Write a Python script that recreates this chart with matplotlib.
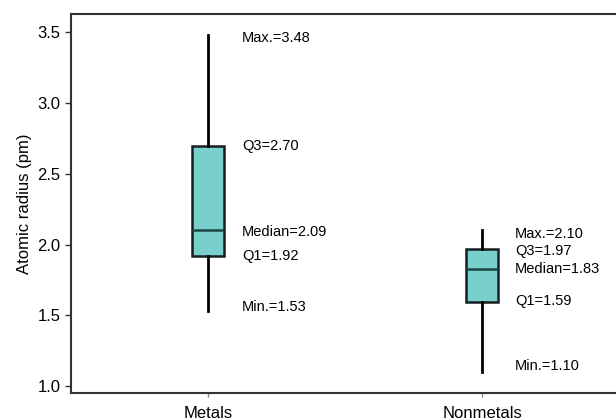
import matplotlib
matplotlib.use("Agg")
import matplotlib.pyplot as plt

plt.rcParams['font.family'] = ['Liberation Sans', 'DejaVu Sans']

# podatki
groups = ["Metals", "Nonmetals"]
mins = [1.53, 1.10]
q1s = [1.92, 1.59]
medians = [2.10, 1.83]
q3s = [2.70, 1.97]
maxs = [3.48, 2.10]

label_names = ["Max.", "Q3", "Median", "Q1", "Min."]
label_values = [["3.48", "2.70", "2.09", "1.92", "1.53"],
                ["2.10", "1.97", "1.83", "1.59", "1.10"]]
# kje stoji besedilo (y v podatkovnih koordinatah)
label_y = [[3.46, 2.695, 2.09, 1.92, 1.56],
           [2.075, 1.955, 1.83, 1.60, 1.14]]

fig = plt.figure(figsize=(6.16, 4.2), dpi=100)
ax = fig.add_axes([71/616, 27/420, 548/616, 379/420])

stats = []
for i, g in enumerate(groups):
    stats.append(dict(label=g, whislo=mins[i], q1=q1s[i], med=medians[i],
                      q3=q3s[i], whishi=maxs[i], fliers=[]))

ax.bxp(stats, positions=[1, 2], widths=0.12, patch_artist=True, showcaps=False,
       boxprops=dict(facecolor="#78cfcb", edgecolor="#14201f", linewidth=1.8),
       medianprops=dict(color="#1d4543", linewidth=1.8),
       whiskerprops=dict(color="#000000", linewidth=2))

offs = [0.124, 0.12]
for i in range(len(groups)):
    for j, nm in enumerate(label_names):
        ax.text(i + 1 + offs[i], label_y[i][j], nm + "=" + label_values[i][j],
                fontsize=10.5, va="center", ha="left", color="#000000")

ax.set_xlim(0.5, 2.5)
ax.set_ylim(0.95, 3.63)
ax.set_yticks([1.0, 1.5, 2.0, 2.5, 3.0, 3.5])
ax.set_yticklabels(["1.0", "1.5", "2.0", "2.5", "3.0", "3.5"])
ax.set_ylabel("Atomic radius (pm)", fontsize=12)
ax.tick_params(axis="y", labelsize=12, length=4, width=1, color="#333333")
ax.tick_params(axis="x", labelsize=12, length=3, width=1, color="#888888", pad=6)
for s in ax.spines.values():
    s.set_color("#333333")
    s.set_linewidth(1.5)

fig.savefig("out.png", dpi=100)
